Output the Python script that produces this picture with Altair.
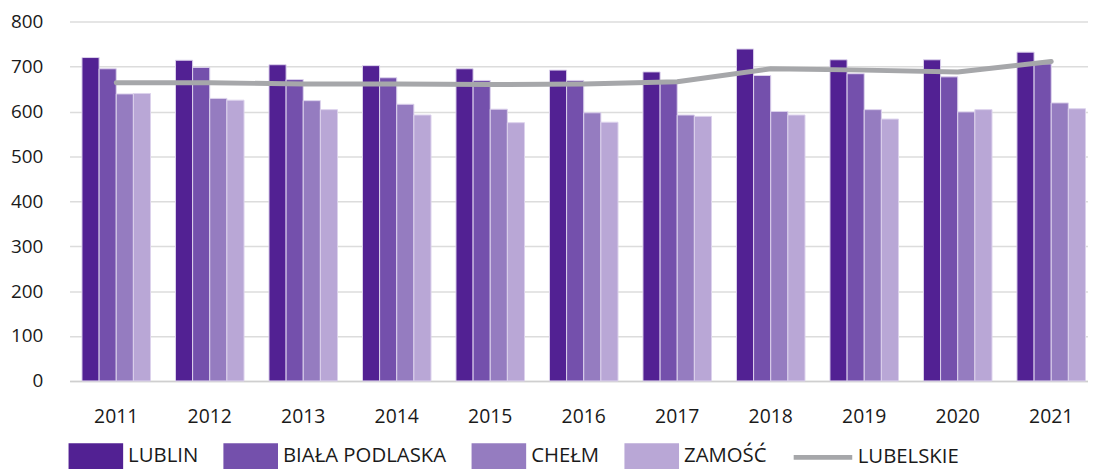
import altair as alt
import pandas as pd

years = ["2011", "2012", "2013", "2014", "2015", "2016", "2017", "2018", "2019", "2020", "2021"]
series = ["LUBLIN", "BIAŁA PODLASKA", "CHEŁM", "ZAMOŚĆ"]
lublin = [720, 714, 704, 702, 695, 692, 688, 739, 715, 715, 732]
biala = [695, 698, 671, 675, 669, 669, 669, 680, 684, 677, 706]
chelm = [639, 629, 624, 616, 605, 597, 592, 600, 604, 599, 619]
zamosc = [640, 625, 604, 592, 575, 576, 589, 592, 583, 604, 606]
lubelskie = [664, 664, 661, 661, 660, 661, 666, 695, 692, 688, 711]

bar_colors = ["#522193", "#7450ac", "#957cc0", "#b9a7d6"]
line_color = "#a6a7aa"
FONT = "Open Sans"

rows = []
for name, vals in zip(series, [lublin, biala, chelm, zamosc]):
    for y, v in zip(years, vals):
        rows.append({"year": y, "series": name, "value": v})
bars_df = pd.DataFrame(rows)
line_df = pd.DataFrame({"year": years, "value": lubelskie, "series": ["LUBELSKIE"] * len(years)})

W = 1026
H = 362

x_scale = alt.Scale(domain=years, range=[0, 1036], paddingInner=0.267, paddingOuter=0.133)
y_scale = alt.Scale(domain=[0, 800])

x_axis = alt.Axis(title=None, labelFont=FONT, labelFontSize=19.5, labelColor="#1a1a1a",
                  labelPadding=27, ticks=False, domain=True, domainColor="#cfcfcf",
                  domainWidth=1.5, labelAngle=0, grid=False)
y_axis = alt.Axis(title=None, values=list(range(0, 801, 100)), labelFont=FONT, labelFontSize=19,
                  labelColor="#1a1a1a", labelPadding=27, ticks=False, domain=False,
                  grid=True, gridColor="#dcdcdc", gridWidth=1.5)

rect_path = "M-1,-0.47L1,-0.47L1,0.47L-1,0.47Z"

bars = alt.Chart(bars_df).mark_bar(stroke="#dcd2ec", strokeWidth=1).encode(
    x=alt.X("year:N", scale=x_scale, axis=x_axis, sort=years),
    xOffset=alt.XOffset("series:N", sort=series, scale=alt.Scale(domain=series, paddingInner=0, paddingOuter=0)),
    y=alt.Y("value:Q", scale=y_scale, axis=y_axis),
    color=alt.Color("series:N", scale=alt.Scale(domain=series, range=bar_colors),
                    legend=alt.Legend(title=None, orient="none", direction="horizontal",
                                      legendX=-1, legendY=410, symbolType=rect_path,
                                      symbolSize=3025, symbolStrokeWidth=0, symbolOpacity=1,
                                      labelFont=FONT, labelFontSize=20.5, labelColor="#1a1a1a",
                                      labelOffset=5, columnPadding=25, padding=0,
                                      labelLimit=400, columns=4)),
)

line = alt.Chart(line_df).mark_line(strokeWidth=5, strokeCap="round", strokeJoin="round").encode(
    x=alt.X("year:N", scale=x_scale, sort=years),
    y=alt.Y("value:Q", scale=y_scale),
    color=alt.Color("series:N", scale=alt.Scale(domain=["LUBELSKIE"], range=[line_color]),
                    legend=alt.Legend(title=None, orient="none", direction="horizontal",
                                      legendX=727, legendY=407, symbolType="stroke",
                                      symbolSize=3481, symbolStrokeWidth=5,
                                      labelFont=FONT, labelFontSize=20.5, labelColor="#1a1a1a",
                                      labelOffset=3, padding=0, labelLimit=400)),
)

chart = alt.layer(bars, line).resolve_scale(color="independent").properties(
    width=W, height=H, autosize=alt.AutoSizeParams(type="none"),
    padding={"left": 62, "top": 12, "right": 0, "bottom": 88},
    background="white",
).configure_view(stroke=None)

chart.save("out.html", embed_options={"renderer": "svg", "actions": False})
